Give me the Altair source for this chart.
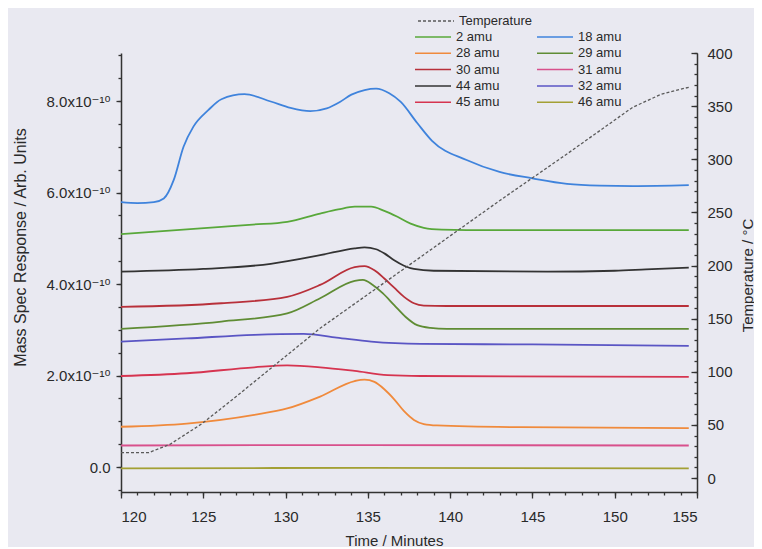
import altair as alt
import pandas as pd

# ---- data (time in minutes, response in units of 1e-10) ----
t_18 = [120.0, 121.0, 122.0, 122.6, 123.2, 123.8, 124.4, 125.3, 126.1, 127.5, 129.1, 130.3, 131.5, 132.5, 133.3, 134.0, 134.8, 135.5, 136.3, 137.0, 138.0, 138.9, 141.0, 143.0, 145.0, 147.1, 149.1, 151.1, 154.5]
v_18 = [5.79, 5.77, 5.79, 5.87, 6.27, 7.00, 7.44, 7.80, 8.04, 8.15, 7.99, 7.85, 7.78, 7.84, 7.98, 8.14, 8.24, 8.27, 8.17, 7.98, 7.52, 7.13, 6.71, 6.45, 6.31, 6.19, 6.15, 6.14, 6.16]

t_2 = [120.0, 126.1, 128.0, 130.1, 132.1, 133.2, 134.2, 135.2, 136.0, 136.8, 137.6, 138.4, 139.5, 141.0, 154.5]
v_2 = [5.09, 5.25, 5.30, 5.36, 5.54, 5.63, 5.69, 5.69, 5.60, 5.47, 5.32, 5.23, 5.19, 5.18, 5.18]

t_44 = [120.0, 125.0, 129.1, 132.1, 134.2, 134.8, 135.5, 136.0, 136.6, 137.2, 137.8, 139.0, 145.9, 150.0, 151.9, 154.5]
v_44 = [4.27, 4.33, 4.44, 4.63, 4.78, 4.80, 4.76, 4.67, 4.52, 4.40, 4.33, 4.29, 4.27, 4.29, 4.32, 4.36]

t_30 = [120.0, 126.1, 130.1, 132.1, 134.2, 134.8, 135.4, 136.0, 136.6, 137.2, 137.8, 138.4, 139.8, 154.5]
v_30 = [3.50, 3.58, 3.72, 3.98, 4.37, 4.39, 4.30, 4.12, 3.92, 3.72, 3.58, 3.53, 3.52, 3.52]

t_29 = [120.0, 126.1, 130.1, 132.1, 134.2, 134.7, 135.3, 135.9, 136.6, 137.3, 138.0, 138.8, 139.8, 154.5]
v_29 = [3.02, 3.18, 3.36, 3.69, 4.07, 4.09, 3.98, 3.80, 3.54, 3.28, 3.10, 3.04, 3.02, 3.02]

t_32 = [120.0, 124.0, 128.1, 131.1, 133.1, 135.2, 138.2, 145.0, 154.5]
v_32 = [2.74, 2.81, 2.89, 2.91, 2.83, 2.74, 2.69, 2.68, 2.65]

t_45 = [120.0, 124.0, 128.1, 130.1, 132.1, 134.2, 136.2, 138.2, 154.5]
v_45 = [1.99, 2.05, 2.18, 2.22, 2.18, 2.10, 2.01, 1.99, 1.97]

t_28 = [120.0, 124.0, 128.1, 130.1, 132.1, 134.2, 134.8, 135.4, 136.0, 136.6, 137.2, 137.8, 138.4, 139.2, 144.3, 154.5]
v_28 = [0.88, 0.95, 1.14, 1.28, 1.54, 1.88, 1.91, 1.86, 1.70, 1.48, 1.22, 1.03, 0.94, 0.91, 0.87, 0.85]

t_31 = [120.0, 135.0, 154.5]
v_31 = [0.47, 0.48, 0.47]

t_46 = [120.0, 135.0, 154.5]
v_46 = [-0.03, -0.02, -0.03]

temp_t = [120.0, 121.7, 123.0, 124.9, 126.7, 132.1, 138.2, 143.0, 147.1, 149.1, 151.1, 152.8, 154.3, 154.6]
temp_v = [24, 24, 32, 51, 73, 141, 208, 261, 305, 327, 349, 361, 367, 368]

# legend is filled column by column: left column then right column
series_names = ["2 amu", "28 amu", "30 amu", "44 amu", "45 amu",
                "18 amu", "29 amu", "31 amu", "32 amu", "46 amu"]
series_colors = ["#58a83a", "#f08a3c", "#b8303a", "#333333", "#d63450",
                 "#3f83dc", "#5f8c34", "#d8508c", "#5a55c4", "#a3a034"]
series_data = {
    "2 amu": (t_2, v_2), "18 amu": (t_18, v_18), "28 amu": (t_28, v_28),
    "29 amu": (t_29, v_29), "30 amu": (t_30, v_30), "31 amu": (t_31, v_31),
    "44 amu": (t_44, v_44), "32 amu": (t_32, v_32), "45 amu": (t_45, v_45),
    "46 amu": (t_46, v_46),
}

rows = []
for name in series_names:
    ts, vs = series_data[name]
    for t, v in zip(ts, vs):
        rows.append({"t": t, "v": v, "series": name})
ms = pd.DataFrame(rows)
temp = pd.DataFrame({"t": temp_t, "T": temp_v, "series": "Temperature"})

W, H = 576, 439
FONT = "Liberation Sans, DejaVu Sans, sans-serif"
x_scale = alt.Scale(domain=[120, 155], nice=False, zero=False)
y_scale = alt.Scale(domain=[-0.546, 9.05], nice=False, zero=False)
t_scale = alt.Scale(domain=[-13.1, 400], nice=False, zero=False)

y_minor = [x / 2 for x in range(-1, 19)]

main = alt.Chart(ms).mark_line(strokeWidth=1.8, interpolate="monotone").encode(
    x=alt.X("t:Q", scale=x_scale,
            axis=alt.Axis(orient="bottom", values=list(range(120, 156, 5)), title="Time / Minutes",
                          tickSize=6, labelPadding=11, titleX=273, titleY=48,
                          titleBaseline="middle", titleAlign="center")),
    y=alt.Y("v:Q", scale=y_scale,
            axis=alt.Axis(orient="left", values=[0, 2, 4, 6, 8],
                          labelExpr="datum.value == 0 ? '0.0' : format(datum.value, '.1f') + 'x10\u207b\u00b9\u2070'",
                          title="Mass Spec Response / Arb. Units", titleFontSize=16,
                          tickSize=5, labelPadding=6,
                          titleX=-101, titleY=194, titleAngle=270,
                          titleBaseline="middle", titleAlign="center")),
    color=alt.Color("series:N", scale=alt.Scale(domain=series_names, range=series_colors),
                    legend=alt.Legend(title=None, orient="none", legendX=293, legendY=-23,
                                      columns=2, symbolType="stroke", symbolSize=1296,
                                      symbolStrokeWidth=1.5, columnPadding=36,
                                      clipHeight=14, rowPadding=2.3, labelFontSize=13)),
    detail="series:N",
)

minor = alt.Chart(ms).mark_line(opacity=0).encode(
    x=alt.X("t:Q", scale=x_scale,
            axis=alt.Axis(orient="bottom", values=list(range(120, 156)), labels=False,
                          domain=False, tickSize=3, title=None)),
    y=alt.Y("v:Q", scale=y_scale,
            axis=alt.Axis(orient="left", values=y_minor, labels=False, domain=False,
                          tickSize=3, title=None)),
    detail="series:N",
)

temp_line = alt.Chart(temp).mark_line(strokeWidth=1.3, strokeDash=[3, 2]).encode(
    x=alt.X("t:Q", scale=x_scale, axis=None),
    y=alt.Y("T:Q", scale=t_scale,
            axis=alt.Axis(orient="right", values=list(range(0, 401, 50)), tickSize=0,
                          labelPadding=10, title="Temperature / \u00b0C", titleAngle=270,
                          titleX=50, titleY=222, titleBaseline="middle", titleAlign="center")),
    color=alt.Color("series:N", scale=alt.Scale(domain=["Temperature"], range=["#5a5a5a"]),
                    legend=alt.Legend(title=None, orient="none", legendX=296, legendY=-39,
                                      symbolType="stroke", symbolSize=1296, symbolDash=[3, 2],
                                      symbolStrokeWidth=1.3, clipHeight=14, labelFontSize=13)),
)

temp_minor = alt.Chart(temp).mark_line(opacity=0).encode(
    x=alt.X("t:Q", scale=x_scale, axis=None),
    y=alt.Y("T:Q", scale=t_scale,
            axis=alt.Axis(orient="left", offset=-W, values=list(range(0, 401, 10)),
                          labels=False, domain=False, tickSize=3, title=None)),
)

temp_major = alt.Chart(temp).mark_line(opacity=0).encode(
    x=alt.X("t:Q", scale=x_scale, axis=None),
    y=alt.Y("T:Q", scale=t_scale,
            axis=alt.Axis(orient="left", offset=-W, values=list(range(0, 401, 50)),
                          labels=False, domain=False, tickSize=6, title=None)),
)

chart = alt.layer(main, minor, temp_line, temp_minor, temp_major).resolve_scale(
    x="independent", y="independent", color="independent"
).properties(
    width=W, height=H,
    autosize=alt.AutoSizeParams(type="none"),
    padding={"left": 113, "top": 45, "right": 57, "bottom": 55},
    background="#e9e9f1",
).configure_view(stroke=None).configure_axis(
    grid=False, domainColor="#333333", domainWidth=1.5, tickColor="#333333", tickWidth=1.3,
    labelFont=FONT, labelFontSize=15, labelColor="#2a2a2a",
    titleFont=FONT, titleFontSize=15, titleFontWeight="normal", titleColor="#2a2a2a",
).configure_legend(
    labelFont=FONT, labelColor="#2a2a2a", padding=0,
)

chart.save("out.html", embed_options={"renderer": "svg", "actions": False})
